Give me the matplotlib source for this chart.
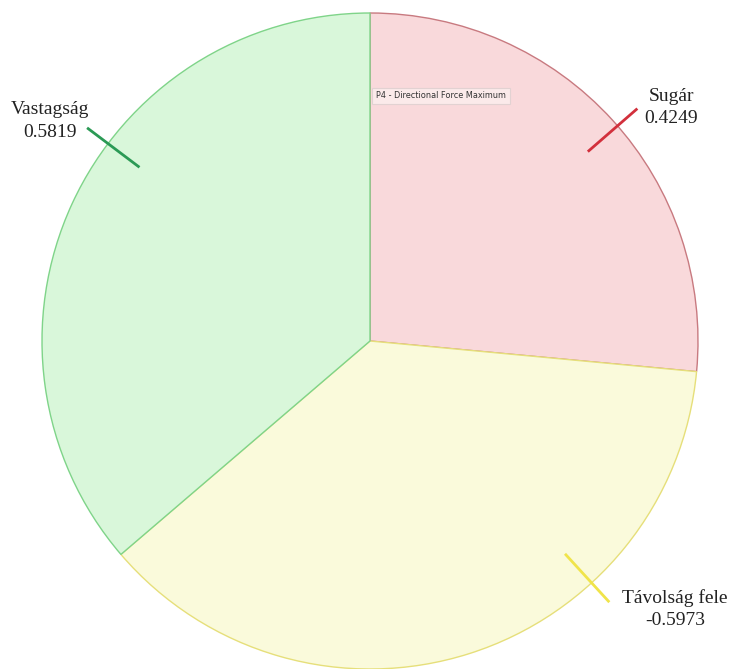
import numpy as np
import matplotlib
matplotlib.use("Agg")
import matplotlib.pyplot as plt

# Data
categories = ["Sugár", "Távolság fele", "Vastagság"]
values = [0.4249, -0.5973, 0.5819]

# Styles / layout
fill_colors = ["#f9d9db", "#fafadb", "#d9f7da"]
edge_colors = ["#c87a80", "#e6df7a", "#7fd489"]
tick_colors = ["#d2303c", "#f0e44a", "#2b9a55"]
label_line_angles = [41.0, -47.5, 143.0]
label_text_pos = [(37.8, 1.163), (-41.3, 1.238), (145.5, 1.184)]

W, H, DPI = 729, 669, 100
cx, cy, R = 370, 341, 328

fig = plt.figure(figsize=(W / DPI, H / DPI), dpi=DPI)
ax = fig.add_axes([0, 0, 1, 1])

wedges, _ = ax.pie(np.abs(values), startangle=90, counterclock=False,
                   colors=fill_colors, radius=1.0,
                   wedgeprops=dict(linewidth=1.0))
for w, ec in zip(wedges, edge_colors):
    w.set_edgecolor(ec)

ax.set_xlim(-cx / R, (W - cx) / R)
ax.set_ylim(-(H - cy) / R, cy / R)
ax.axis("off")

for cat, val, ang, (tang, tr), tc in zip(categories, values, label_line_angles,
                                         label_text_pos, tick_colors):
    a = np.deg2rad(ang)
    r0, r1 = 0.88, 1.08
    ax.plot([r0 * np.cos(a), r1 * np.cos(a)], [r0 * np.sin(a), r1 * np.sin(a)],
            color=tc, lw=2.0, solid_capstyle="butt")
    t = np.deg2rad(tang)
    ax.text(tr * np.cos(t), tr * np.sin(t), f"{cat}\n{val:.4f}",
            ha="center", va="center", fontsize=14, family="Liberation Serif",
            color="#222222", linespacing=1.4)

ax.text((376 - cx) / R, (cy - 96) / R, "P4 - Directional Force Maximum",
        ha="left", va="center", fontsize=5.9, family="DejaVu Sans",
        color="#333333",
        bbox=dict(boxstyle="square,pad=0.45", facecolor="#fbeaea",
                  edgecolor="#e2d2d2", linewidth=0.8))

fig.savefig("out.png", dpi=DPI)
